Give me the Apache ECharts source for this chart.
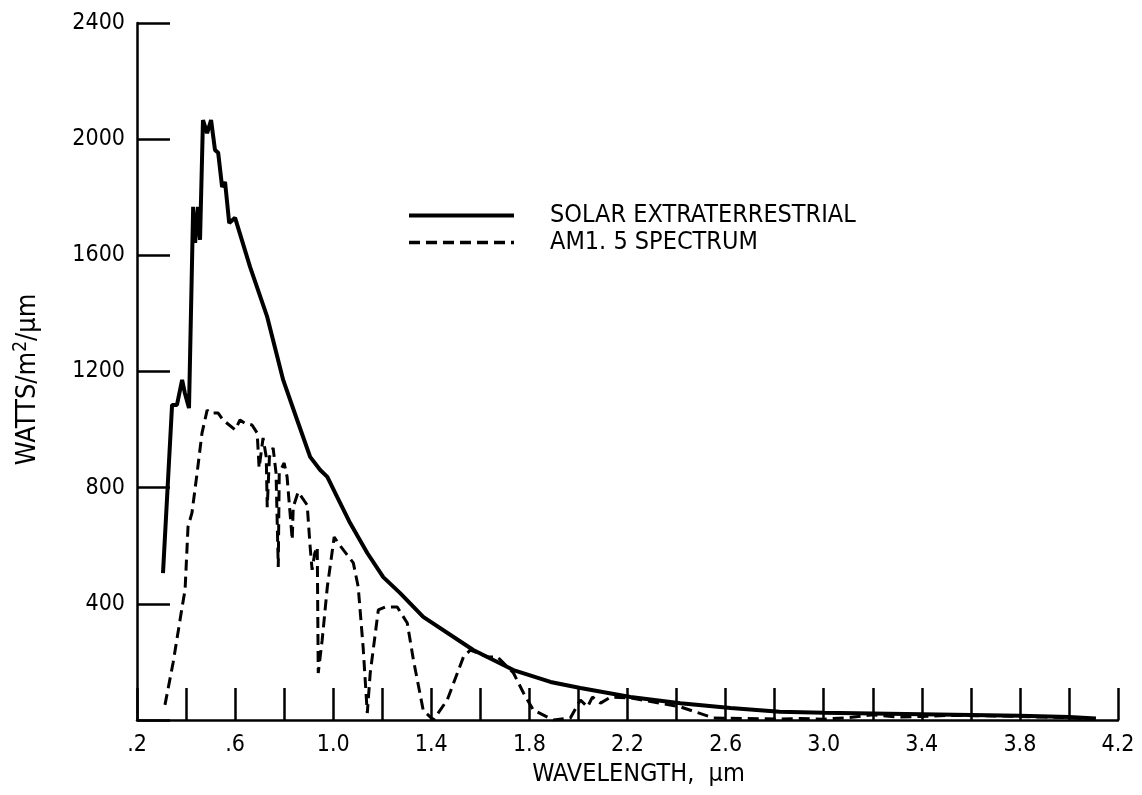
<!DOCTYPE html>
<html>
<head>
<meta charset="utf-8">
<script src="https://cdn.jsdelivr.net/npm/echarts@6/dist/echarts.min.js"></script>
<style>
html,body{margin:0;padding:0;background:#fff;}
#chart{width:1142px;height:795px;}
</style>
</head>
<body>
<div id="chart"></div>
<script>
// ---- data ----
var solarX = [0.306,0.343,0.363,0.384,0.395,0.412,0.416,0.429,0.437,0.449,0.457,0.469,0.486,0.502,0.518,0.531,0.547,0.559,0.576,0.600,0.661,0.731,0.796,0.853,0.906,0.947,0.976,1.016,1.069,1.139,1.204,1.273,1.367,1.571,1.735,1.886,2.008,2.212,2.416,2.620,2.820,3.000,3.400,3.800,4.000,4.110];
var solarY = [506,1085,1085,1171,1126,1074,1074,1767,1643,1767,1653,2066,2021,2066,1963,1953,1835,1853,1711,1729,1560,1388,1171,1033,906,861,837,768,678,575,492,437,355,241,172,131,110,79,58,41,28,25,20,15,10,5];

var amX = [0.314,0.347,0.384,0.396,0.408,0.424,0.445,0.465,0.486,0.498,0.531,0.551,0.600,0.620,0.640,0.669,0.690,0.698,0.714,0.727,0.731,0.740,0.755,0.767,0.776,0.780,0.800,0.812,0.833,0.837,0.857,0.894,0.906,0.914,0.925,0.935,0.939,0.955,0.976,1.004,1.020,1.082,1.102,1.122,1.139,1.151,1.184,1.212,1.261,1.302,1.327,1.367,1.408,1.465,1.531,1.559,1.629,1.670,1.735,1.776,1.816,1.898,1.967,2.008,2.037,2.057,2.090,2.131,2.212,2.416,2.551,2.820,2.900,3.000,3.100,3.200,3.300,3.400,3.500,3.600,3.700,3.800,3.900,4.000,4.050];
var amY = [52,196,389,448,665,713,850,988,1067,1057,1057,1033,999,1033,1022,1016,988,868,971,906,733,906,937,850,527,850,885,837,620,733,785,740,596,517,575,596,162,275,458,630,609,541,458,251,24,162,379,389,389,334,207,34,0,69,217,241,217,217,162,93,34,0,7,69,45,79,58,79,76,45,7,3,5,3,8,18,10,12,16,15,14,12,10,8,5];

var xLabelValues = [0.2,0.6,1.0,1.4,1.8,2.2,2.6,3.0,3.4,3.8,4.2];
var xLabelTexts  = ['.2','.6','1.0','1.4','1.8','2.2','2.6','3.0','3.4','3.8','4.2'];
var yLabelValues = [400,800,1200,1600,2000,2400];
var yLabelTexts  = ['400','800','1200','1600','2000','2400'];

var seriesNames = ['SOLAR EXTRATERRESTRIAL','AM1. 5 SPECTRUM'];

function pairs(xs, ys){ var out=[]; for(var i=0;i<xs.length;i++){ out.push([xs[i], ys[i]]); } return out; }

var FONT = "'DejaVu Sans Condensed','Liberation Sans Narrow',sans-serif";

var chart = echarts.init(document.getElementById('chart'), null, {renderer:'canvas'});
chart.setOption({
  backgroundColor:'#ffffff',
  animation:false,
  grid:{left:137, right:24, top:23, bottom:75, containLabel:false},
  legend:{
    orient:'vertical', left:402, top:198,
    itemWidth:105, itemHeight:14, itemGap:2,
    itemStyle:{opacity:0},
    textStyle:{color:'#000', fontSize:25, fontFamily:FONT, padding:[0,0,0,31]},
    data:[
      {name:seriesNames[0], itemStyle:{opacity:0}, lineStyle:{width:4, color:'#000', type:'solid'}},
      {name:seriesNames[1], itemStyle:{opacity:0}, lineStyle:{width:3.5, color:'#000', type:[11,6]}}
    ]
  },
  xAxis:{
    type:'value', min:0.2, max:4.2, interval:0.2,
    name:'WAVELENGTH,  μm', nameLocation:'middle', nameGap:40,
    nameTextStyle:{color:'#000', fontSize:25, fontFamily:FONT, padding:[0,0,0,22]},
    axisLine:{show:true, onZero:false, lineStyle:{color:'#000', width:2.5}},
    axisTick:{show:true, inside:true, length:32, lineStyle:{color:'#000', width:2.5}},
    splitLine:{show:false},
    axisLabel:{
      color:'#000', fontSize:23, fontFamily:FONT, margin:14, showMinLabel:true, showMaxLabel:true,
      formatter:function(v){
        var r = Math.round(v*10)/10;
        for(var i=0;i<xLabelValues.length;i++){ if(Math.abs(xLabelValues[i]-r)<1e-6) return xLabelTexts[i]; }
        return '';
      }
    }
  },
  yAxis:{
    type:'value', min:0, max:2400, interval:400,
    name:'WATTS/m{s|2}/μm', nameLocation:'middle', nameGap:94, nameRotate:90,
    nameTextStyle:{color:'#000', fontSize:27, fontFamily:FONT, padding:[0,16,0,0],
      rich:{s:{fontSize:19, fontFamily:FONT, color:'#000', verticalAlign:'top', padding:[0,0,12,0]}}},
    axisLine:{show:true, lineStyle:{color:'#000', width:2.5}},
    axisTick:{show:true, inside:true, length:33, lineStyle:{color:'#000', width:2.5}},
    splitLine:{show:false},
    axisLabel:{
      color:'#000', fontSize:23, fontFamily:FONT, margin:12,
      formatter:function(v){
        for(var i=0;i<yLabelValues.length;i++){ if(Math.abs(yLabelValues[i]-v)<1e-6) return yLabelTexts[i]; }
        return '';
      }
    }
  },
  series:[
    {
      name:seriesNames[0], type:'line', data:pairs(solarX, solarY),
      showSymbol:false, symbol:'none', smooth:false, z:3,
      lineStyle:{color:'#000', width:4, type:'solid'},
      itemStyle:{color:'#000'}
    },
    {
      name:seriesNames[1], type:'line', data:pairs(amX, amY),
      showSymbol:false, symbol:'none', smooth:false, z:2,
      lineStyle:{color:'#000', width:3, type:[11,6]},
      itemStyle:{color:'#000'}
    }
  ]
});
</script>
</body>
</html>
